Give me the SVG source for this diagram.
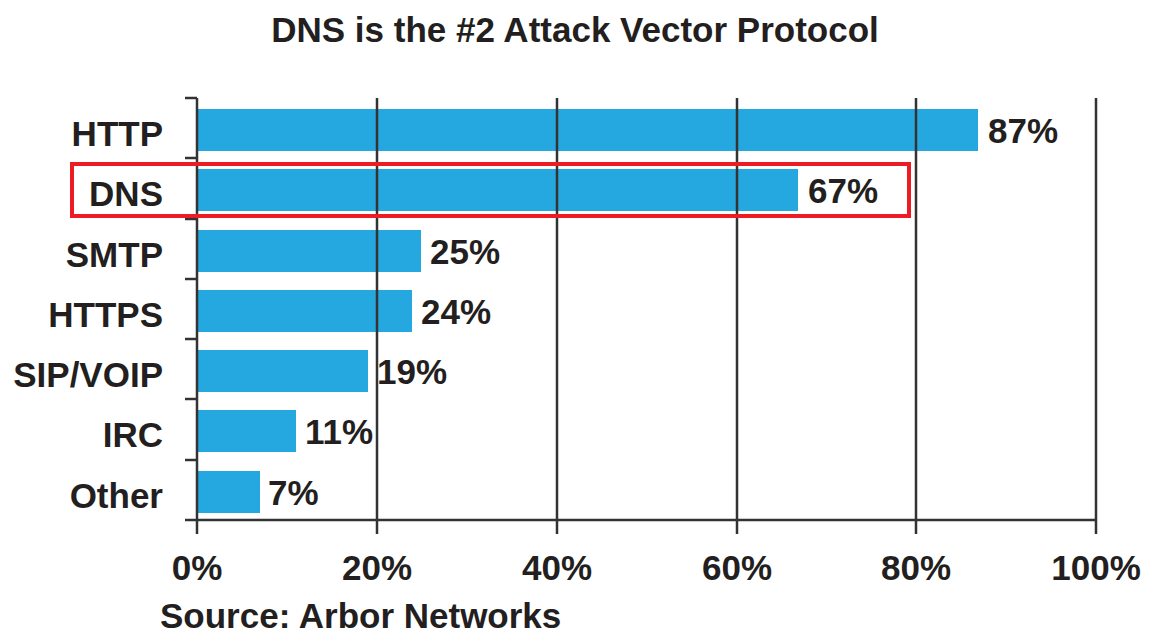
<svg xmlns="http://www.w3.org/2000/svg" width="1150" height="635" viewBox="0 0 1150 635">
  <style>
    text { font-family: "Liberation Sans", Arial, sans-serif; font-weight: bold; font-size: 35px; fill: #231f20; }
    .cat { text-anchor: end; }
    .tick { text-anchor: middle; }
    .bar { fill: #25a8e0; }
    .grid { stroke: #333333; stroke-width: 2.5; fill: none; }
    .highlight { fill: none; stroke: #ed1c24; stroke-width: 4; }
  </style>
  <rect width="1150" height="635" fill="#ffffff"/>

  <!-- title -->
  <text x="575" y="42" text-anchor="middle">DNS is the #2 Attack Vector Protocol</text>

  <!-- bars (0% at x=197, 9px per percent) -->
  <g id="bars">
    <g id="bar-http"><rect class="bar" x="198" y="109" width="780" height="42"/><text x="988" y="143">87%</text><text class="cat" x="163" y="146">HTTP</text></g>
    <g id="bar-dns"><rect class="bar" x="198" y="169" width="600" height="42"/><text x="808" y="203">67%</text><text class="cat" x="163" y="206">DNS</text></g>
    <g id="bar-smtp"><rect class="bar" x="198" y="230" width="223" height="42"/><text x="430" y="264">25%</text><text class="cat" x="163" y="267">SMTP</text></g>
    <g id="bar-https"><rect class="bar" x="198" y="290" width="214" height="42"/><text x="421" y="324">24%</text><text class="cat" x="163" y="327">HTTPS</text></g>
    <g id="bar-sip"><rect class="bar" x="198" y="350" width="170" height="42"/><text x="377" y="384">19%</text><text class="cat" x="163" y="387">SIP/VOIP</text></g>
    <g id="bar-irc"><rect class="bar" x="198" y="410" width="98" height="42"/><text x="305" y="444">11%</text><text class="cat" x="163" y="447">IRC</text></g>
    <g id="bar-other"><rect class="bar" x="198" y="471" width="62" height="42"/><text x="268" y="505">7%</text><text class="cat" x="163" y="508">Other</text></g>
  </g>

  <!-- axes, gridlines and ticks -->
  <g id="axes" class="grid">
    <line x1="197" y1="98" x2="197" y2="534"/>
    <line x1="377" y1="98" x2="377" y2="534"/>
    <line x1="557" y1="98" x2="557" y2="534"/>
    <line x1="737" y1="98" x2="737" y2="534"/>
    <line x1="916" y1="98" x2="916" y2="534"/>
    <line x1="1096" y1="98" x2="1096" y2="534"/>
    <line x1="185" y1="520" x2="1096" y2="520"/>
    <line x1="185" y1="98" x2="197" y2="98"/>
    <line x1="185" y1="158" x2="197" y2="158"/>
    <line x1="185" y1="219" x2="197" y2="219"/>
    <line x1="185" y1="279" x2="197" y2="279"/>
    <line x1="185" y1="339" x2="197" y2="339"/>
    <line x1="185" y1="399" x2="197" y2="399"/>
    <line x1="185" y1="460" x2="197" y2="460"/>
  </g>

  <!-- DNS highlight -->
  <rect id="dns-highlight" class="highlight" x="72" y="164" width="837" height="52"/>

  <!-- x-axis labels -->
  <g id="x-labels">
    <text class="tick" x="197" y="580">0%</text>
    <text class="tick" x="377" y="580">20%</text>
    <text class="tick" x="557" y="580">40%</text>
    <text class="tick" x="737" y="580">60%</text>
    <text class="tick" x="916" y="580">80%</text>
    <text class="tick" x="1096" y="580">100%</text>
  </g>

  <text x="160" y="628">Source: Arbor Networks</text>
</svg>
